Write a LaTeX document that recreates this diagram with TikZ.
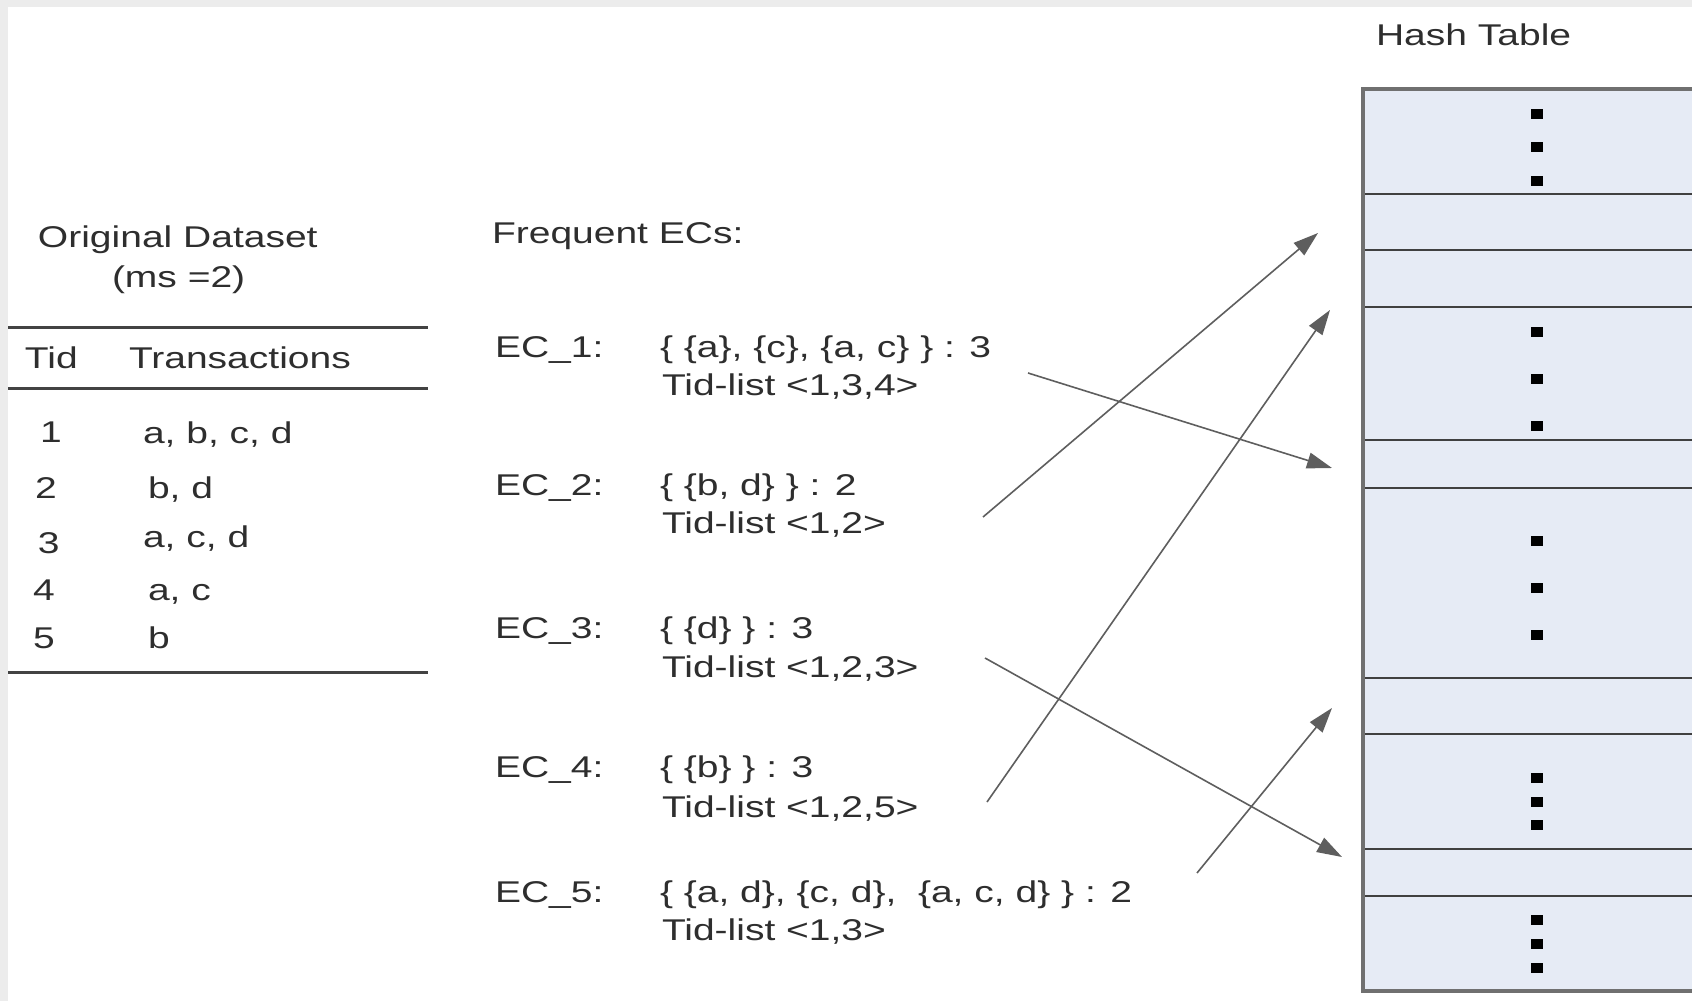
\documentclass[tikz,border=0pt]{standalone}
\usepackage{fontspec}
\setmainfont{Liberation Sans}
\usetikzlibrary{arrows.meta}
\definecolor{txt}{HTML}{2E2E2E}
\definecolor{cellfill}{HTML}{E6EBF5}
\definecolor{cellline}{HTML}{404040}
\definecolor{frameline}{HTML}{707070}
\definecolor{arrowc}{HTML}{5E5E5E}
\definecolor{pagegray}{HTML}{ECECEC}
\newcommand{\hx}[1]{\scalebox{1.3}[1]{#1}}
\begin{document}
\begin{tikzpicture}[x=0.5pt,y=-0.5pt,
  every node/.style={inner sep=0pt,outer sep=0pt,text=txt,font=\fontsize{15pt}{18pt}\selectfont},
  lbl/.style={anchor=base west},
  cell/.style={draw=cellline,line width=1pt,fill=cellfill,minimum width=168.5pt,anchor=center},
  rule/.style={draw=txt!90,line width=1.5pt},
  conn/.style={draw=arrowc,line width=0.8pt,-{Triangle[length=12.5pt,width=8pt]}},
  dotm/.style={fill=black}]
\useasboundingbox (0,0) rectangle (1692,1001);
\clip (0,0) rectangle (1692,1001);
\fill[pagegray] (0,0) rectangle (1692,1001);
\fill[white] (8,7) rectangle (1692,1001);

% ---- Original dataset table ----
\node[lbl] (title) at (38,247) {\hx{Original Dataset}};
\node[lbl] (ms) at (112,287) {\hx{(ms =2)}};
\coordinate (r1l) at (8,327); \coordinate (r1r) at (428,327);
\coordinate (r2l) at (8,388); \coordinate (r2r) at (428,388);
\coordinate (r3l) at (8,672); \coordinate (r3r) at (428,672);
\draw[rule] (r1l) -- (r1r);
\draw[rule] (r2l) -- (r2r);
\draw[rule] (r3l) -- (r3r);
\node[lbl] (tidh) at (25,368) {\hx{Tid}};
\node[lbl] (trh) at (129,368) {\hx{Transactions}};
\node[lbl] (t1) at (40,442) {\hx{1}};
\node[lbl] (x1) at (143,443) {\hx{a, b, c, d}};
\node[lbl] (t2) at (35,498) {\hx{2}};
\node[lbl] (x2) at (148,498) {\hx{b, d}};
\node[lbl] (t3) at (38,553) {\hx{3}};
\node[lbl] (x3) at (143,547) {\hx{a, c, d}};
\node[lbl] (t4) at (33,600) {\hx{4}};
\node[lbl] (x4) at (148,600) {\hx{a, c}};
\node[lbl] (t5) at (33,648) {\hx{5}};
\node[lbl] (x5) at (148,648) {\hx{b}};

% ---- Frequent ECs ----
\node[lbl] (freq) at (492,243) {\hx{Frequent ECs:}};
\node[lbl] (ec1) at (495,357) {\hx{EC\_1:}};
\node[lbl] (ec1s) at (660,357) {\hx{\{ \{a\}, \{c\}, \{a, c\} \} : 3}};
\node[lbl] (ec1t) at (662,395) {\hx{Tid-list <1,3,4>}};
\node[lbl] (ec2) at (495,495) {\hx{EC\_2:}};
\node[lbl] (ec2s) at (660,495) {\hx{\{ \{b, d\} \} : 2}};
\node[lbl] (ec2t) at (662,533) {\hx{Tid-list <1,2>}};
\node[lbl] (ec3) at (495,638) {\hx{EC\_3:}};
\node[lbl] (ec3s) at (660,638) {\hx{\{ \{d\} \} : 3}};
\node[lbl] (ec3t) at (662,677) {\hx{Tid-list <1,2,3>}};
\node[lbl] (ec4) at (495,777) {\hx{EC\_4:}};
\node[lbl] (ec4s) at (660,777) {\hx{\{ \{b\} \} : 3}};
\node[lbl] (ec4t) at (662,817) {\hx{Tid-list <1,2,5>}};
\node[lbl] (ec5) at (495,902) {\hx{EC\_5:}};
\node[lbl] (ec5s) at (660,902) {\hx{\{ \{a, d\}, \{c, d\},\ \ \{a, c, d\} \} : 2}};
\node[lbl] (ec5t) at (662,940) {\hx{Tid-list <1,3>}};

% ---- Hash table ----
\node[lbl] (ht) at (1376,45) {\hx{Hash Table}};
\node[cell,minimum height=52.5pt] (c1) at (1531.5,141.5) {};
\node[cell,minimum height=28pt] (c2) at (1531.5,222) {};
\node[cell,minimum height=28.5pt] (c3) at (1531.5,278.5) {};
\node[cell,minimum height=66.5pt] (c4) at (1531.5,373.5) {};
\node[cell,minimum height=24pt] (c5) at (1531.5,464) {};
\node[cell,minimum height=95pt] (c6) at (1531.5,583) {};
\node[cell,minimum height=28pt] (c7) at (1531.5,706) {};
\node[cell,minimum height=57.5pt] (c8) at (1531.5,791.5) {};
\node[cell,minimum height=23.5pt] (c9) at (1531.5,872.5) {};
\node[cell,minimum height=47.5pt] (c10) at (1531.5,943.5) {};
\draw[frameline,line width=1.6pt] (1700,89) -- (1363,89) -- (1363,991) -- (1700,991);
\foreach \yy in {114,147,181, 332,379,426, 541,588,635, 778,802,825, 920,944,968}
  \fill[dotm] (1531,\yy-5) rectangle (1543,\yy+5);

% ---- connectors ----
\coordinate (a1s) at (1028,373); \coordinate (a1e) at (1332,468);
\coordinate (a2s) at (983,517);  \coordinate (a2e) at (1318,233);
\coordinate (a3s) at (985,658);  \coordinate (a3e) at (1342,857);
\coordinate (a4s) at (987,802);  \coordinate (a4e) at (1330,310);
\coordinate (a5s) at (1197,873); \coordinate (a5e) at (1332,708);
\draw[conn] (a1s) -- (a1e);
\draw[conn] (a2s) -- (a2e);
\draw[conn] (a3s) -- (a3e);
\draw[conn] (a4s) -- (a4e);
\draw[conn] (a5s) -- (a5e);
\end{tikzpicture}
\end{document}
